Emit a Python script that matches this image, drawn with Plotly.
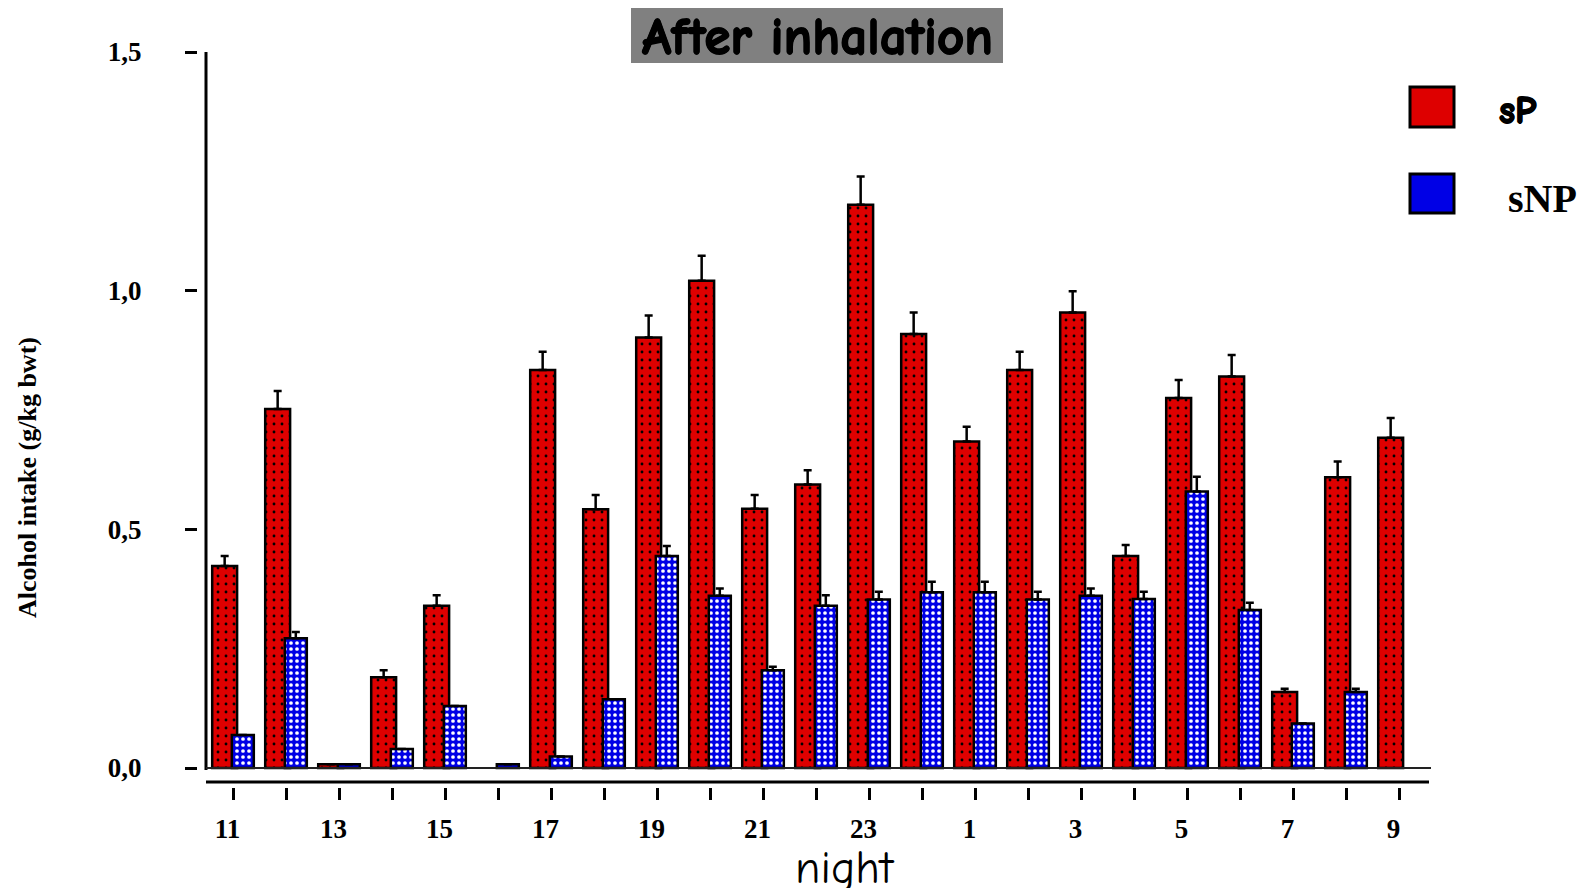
import plotly.graph_objects as go

# ---------------- data ----------------
nights = ["11", "12", "13", "14", "15", "16", "17", "18", "19", "20", "21", "22",
          "23", "24", "1", "2", "3", "4", "5", "6", "7", "8", "9"]
tick_labels = ["11", "", "13", "", "15", "", "17", "", "19", "", "21", "",
               "23", "", "1", "", "3", "", "5", "", "7", "", "9"]

sP = [0.423, 0.752, 0.008, 0.190, 0.340, None, 0.834, 0.542, 0.902, 1.021, 0.543, 0.594,
      1.180, 0.909, 0.684, 0.834, 0.954, 0.444, 0.775, 0.820, 0.159, 0.609, 0.692]
sP_err = [0.021, 0.038, None, 0.015, 0.022, None, 0.038, 0.030, 0.046, 0.052, 0.029, 0.030,
          0.059, 0.045, 0.031, 0.038, 0.045, 0.023, 0.038, 0.045, 0.007, 0.033, 0.041]

sNP = [0.069, 0.272, 0.008, 0.040, 0.130, 0.008, 0.024, 0.144, 0.444, 0.361, 0.205, 0.340,
       0.353, 0.368, 0.368, 0.353, 0.361, 0.354, 0.579, 0.331, 0.093, 0.159, None]
sNP_err = [None, 0.013, None, None, None, None, None, None, 0.021, 0.015, 0.007, 0.022,
           0.016, 0.022, 0.022, 0.016, 0.015, 0.015, 0.031, 0.015, None, 0.007, None]

y_ticks = [0, 0.5, 1.0, 1.5]
y_ticktext = ["0,0", "0,5", "1,0", "1,5"]

RED = "#de0000"
BLUE = "#0000e6"

x = list(range(len(nights)))

# ---------------- layout geometry (page pixels) ----------------
PAGE_OFF = 8                       # default body margin of the html page
FIG_W, FIG_H = 1591 - 2 * PAGE_OFF, 896 - 2 * PAGE_OFF
L, R, T, B = 198, 1431, 52, 787    # plot area in page pixels
PW, PH = R - L, B - T


def px(xp):
    return (xp - L) / PW


def py(yp):
    return (B - yp) / PH


SERIF = "Liberation Serif, Times New Roman, serif"
COMIC = "Comic Sans MS, Comic Neue, Lato, sans-serif"
BOLDEN = "0.8px 0px 0px black, -0.8px 0px 0px black, 0px 0.8px 0px black, 0px -0.8px 0px black"

fig = go.Figure()

fig.add_trace(go.Bar(
    x=x, y=sP, name="sP",
    offset=-0.40, width=0.47,
    marker=dict(color=RED, line=dict(color="black", width=2.5),
                pattern=dict(shape=".", fgcolor="black", bgcolor=RED,
                             size=8, solidity=0.1, fillmode="replace")),
    error_y=dict(type="data", symmetric=False, array=sP_err,
                 arrayminus=[0] * len(sP_err), color="black",
                 thickness=2.5, width=4),
    showlegend=False,
))
fig.add_trace(go.Bar(
    x=x, y=sNP, name="sNP",
    offset=-0.03, width=0.415,
    marker=dict(color=BLUE, line=dict(color="black", width=2.5),
                pattern=dict(shape=".", fgcolor="white", bgcolor=BLUE,
                             size=6, solidity=0.3, fillmode="replace")),
    error_y=dict(type="data", symmetric=False, array=sNP_err,
                 arrayminus=[0] * len(sNP_err), color="black",
                 thickness=2.5, width=4),
    showlegend=False,
))

x_lo = (L - 233.4) / 53.0
x_hi = (R - 233.4) / 53.0
y_per_px = 1.5 / (768 - 52)
y_lo = -(B - 768) * y_per_px

fig.update_layout(
    width=FIG_W, height=FIG_H,
    margin=dict(l=L - PAGE_OFF, r=FIG_W - (R - PAGE_OFF), t=T - PAGE_OFF,
                b=FIG_H - (B - PAGE_OFF), pad=0),
    paper_bgcolor="white", plot_bgcolor="white",
    barmode="overlay",
    showlegend=False,
    xaxis=dict(range=[x_lo, x_hi], tickmode="array", tickvals=x, ticktext=tick_labels,
               ticks="outside", ticklen=12, tickwidth=2.5, tickcolor="black",
               showline=False, showgrid=False, zeroline=False,
               ticklabelstandoff=6, ticklabelshift=-6,
               tickfont=dict(family=SERIF, size=27, color="black", weight="bold")),
    yaxis=dict(range=[y_lo, 1.5], tickmode="array", tickvals=y_ticks, ticktext=y_ticktext,
               ticks="outside", ticklen=12, tickwidth=2.5, tickcolor="black",
               showline=False, showgrid=False, zeroline=False,
               ticklabelstandoff=38,
               tickfont=dict(family=SERIF, size=27, color="black", weight="bold")),
)

shapes = []
# y axis line
shapes.append(dict(type="line", xref="paper", yref="paper",
                   x0=px(206), x1=px(206), y0=py(52), y1=py(770),
                   line=dict(color="black", width=3)))
# zero baseline
shapes.append(dict(type="line", xref="paper", yref="y",
                   x0=px(206), x1=px(1431), y0=0, y1=0,
                   line=dict(color="#222222", width=2)))
# x axis line
shapes.append(dict(type="line", xref="paper", yref="paper",
                   x0=px(206), x1=px(1429), y0=py(782), y1=py(782),
                   line=dict(color="black", width=3)))
# title box
shapes.append(dict(type="rect", xref="paper", yref="paper",
                   x0=px(631), x1=px(1003), y0=py(63), y1=py(6),
                   fillcolor="#808080", line=dict(width=0), layer="below"))
# legend swatches
shapes.append(dict(type="rect", xref="paper", yref="paper",
                   x0=px(1410), x1=px(1454), y0=py(127), y1=py(87),
                   fillcolor=RED, line=dict(color="black", width=3)))
shapes.append(dict(type="rect", xref="paper", yref="paper",
                   x0=px(1410), x1=px(1454), y0=py(213), y1=py(174),
                   fillcolor=BLUE, line=dict(color="black", width=3)))
fig.update_layout(shapes=shapes)

annotations = [
    dict(text="After inhalation", x=px(817), y=py(37), xref="paper", yref="paper",
         showarrow=False, xanchor="center", yanchor="middle",
         font=dict(family=COMIC, size=53, color="black", weight="bold", shadow=BOLDEN)),
    dict(text="night", x=px(845), y=py(868), xref="paper", yref="paper",
         showarrow=False, xanchor="center", yanchor="middle",
         font=dict(family=COMIC, size=46, color="black")),
    dict(text="Alcohol intake (g/kg bwt)", x=px(27), y=py(478), xref="paper", yref="paper",
         showarrow=False, xanchor="center", yanchor="middle", textangle=-90,
         font=dict(family=SERIF, size=26, color="black", weight="bold")),
    dict(text="sP", x=px(1517), y=py(111), xref="paper", yref="paper",
         showarrow=False, xanchor="center", yanchor="middle",
         font=dict(family=COMIC, size=38, color="black", weight="bold", shadow=BOLDEN)),
    dict(text="sNP", x=px(1542), y=py(199), xref="paper", yref="paper",
         showarrow=False, xanchor="center", yanchor="middle",
         font=dict(family=SERIF, size=40, color="black", weight="bold")),
]
fig.update_layout(annotations=annotations)

fig.write_html("out.html")
